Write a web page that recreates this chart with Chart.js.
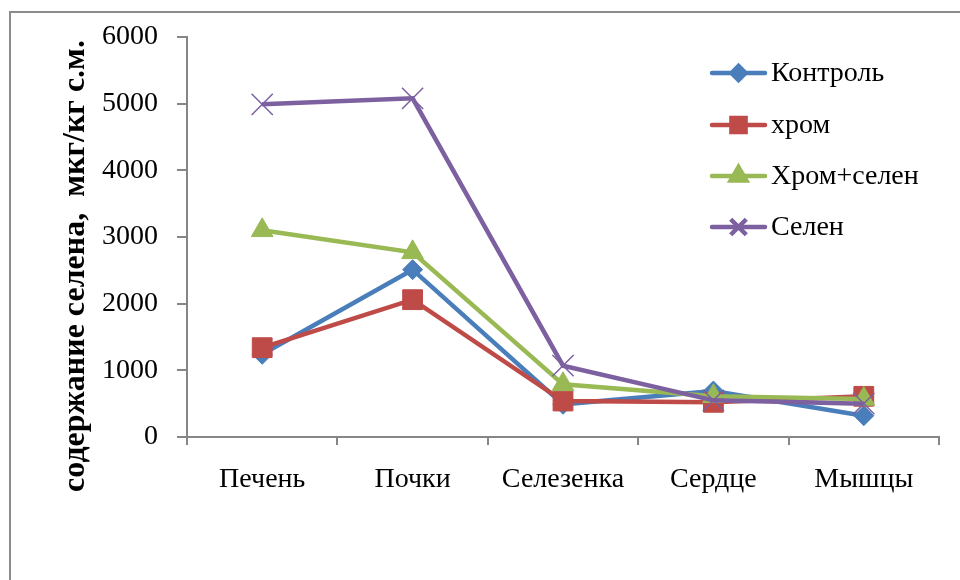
<!DOCTYPE html>
<html>
<head>
<meta charset="utf-8">
<script src="https://cdn.jsdelivr.net/npm/chart.js@4/dist/chart.umd.min.js"></script>
<style>
  html, body { margin: 0; padding: 0; background: #fff; }
  #wrap { position: relative; width: 960px; height: 580px; overflow: hidden; }
  #frame { position: absolute; left: 9px; top: 11px; width: 1000px; height: 700px;
           border-left: 2px solid #8c8c8c; border-top: 2px solid #8c8c8c; box-sizing: border-box; }
  canvas { position: absolute; left: 0; top: 0; }
</style>
</head>
<body>
<div id="wrap">
  <div id="frame"></div>
  <canvas id="c" width="960" height="580"></canvas>
</div>
<script>
const categories = ['Печень', 'Почки', 'Селезенка', 'Сердце', 'Мышцы'];
const seriesNames = ['Контроль', 'хром', 'Хром+селен', 'Селен'];
const kontrol = [1240, 2510, 490, 690, 320];
const khrom = [1340, 2060, 540, 520, 610];
const khromSelen = [3100, 2770, 790, 610, 570];
const selen = [4990, 5080, 1070, 550, 500];
const yTicks = [0, 1000, 2000, 3000, 4000, 5000, 6000];
const yTitle = 'содержание селена,  мкг/кг с.м.';

const colors = ['#4A7EBB', '#BE4B48', '#98B954', '#7D60A0'];
const styles = ['rectRot', 'rect', 'triangle', 'crossRot'];
const radii = [10, 14, 12.5, 15];
const legendRadii = [7, 10, 9, 11];
const values = [kontrol, khrom, khromSelen, selen];

const FONT = '"Liberation Serif", "Times New Roman", serif';
const AXIS = '#868686';

const datasets = seriesNames.map((name, i) => ({
  label: name,
  data: values[i],
  borderColor: colors[i],
  backgroundColor: colors[i],
  pointBackgroundColor: colors[i],
  pointBorderColor: colors[i],
  pointStyle: styles[i],
  pointRadius: radii[i],
  pointBorderWidth: i === 3 ? 1.5 : 1,
  borderWidth: 4.5,
  tension: 0,
  order: seriesNames.length - i
}));

const overlay = {
  id: 'overlay',
  afterDraw(chart) {
    const ctx = chart.ctx;
    ctx.save();
    ctx.font = 'bold 32px ' + FONT;
    ctx.fillStyle = '#000';
    ctx.textAlign = 'center';
    ctx.textBaseline = 'middle';
    ctx.translate(76, 266);
    ctx.rotate(-Math.PI / 2);
    ctx.fillText(yTitle, 0, 0);
    ctx.restore();

    ctx.save();
    const x0 = 712, x1 = 765, tx = 771;
    const ys = [73, 125, 176, 227];
    seriesNames.forEach((name, i) => {
      const y = ys[i];
      ctx.strokeStyle = colors[i];
      ctx.lineWidth = 4.5;
      ctx.lineCap = 'round';
      ctx.beginPath();
      ctx.moveTo(x0, y);
      ctx.lineTo(x1, y);
      ctx.stroke();
      ctx.fillStyle = colors[i];
      ctx.strokeStyle = colors[i];
      ctx.lineCap = 'butt';
      Chart.helpers.drawPoint(ctx, {
        pointStyle: styles[i], radius: legendRadii[i], rotation: 0,
        borderWidth: i === 3 ? 1 : 1
      }, (x0 + x1) / 2, y);
      ctx.fillStyle = '#000';
      ctx.font = '28px ' + FONT;
      ctx.textAlign = 'left';
      ctx.textBaseline = 'middle';
      ctx.fillText(name, tx, y + 1);
    });
    ctx.restore();
  }
};

new Chart(document.getElementById('c'), {
  type: 'line',
  data: { labels: categories, datasets },
  options: {
    responsive: false,
    animation: false,
    events: [],
    layout: { padding: { left: 0, top: 37, right: 21, bottom: 73 } },
    plugins: { legend: { display: false }, tooltip: { enabled: false } },
    scales: {
      x: {
        offset: true,
        afterFit(s) { s.height = 70; },
        border: { display: true, color: AXIS, width: 2 },
        grid: { display: true, offset: true, drawOnChartArea: false, drawTicks: true, tickLength: 8, color: AXIS, lineWidth: 2 },
        ticks: { color: '#000', font: { family: FONT, size: 28 }, padding: 18, maxRotation: 0, autoSkip: false }
      },
      y: {
        min: 0, max: 6000,
        afterFit(s) { s.width = 187; },
        afterBuildTicks(s) { s.ticks = yTicks.map(v => ({ value: v })); },
        border: { display: true, color: AXIS, width: 2 },
        grid: { display: true, drawOnChartArea: false, drawTicks: true, tickLength: 10, color: AXIS, lineWidth: 2 },
        ticks: { color: '#000', font: { family: FONT, size: 28 }, padding: 19, callback: v => String(v) }
      }
    }
  },
  plugins: [overlay]
});
</script>
</body>
</html>
